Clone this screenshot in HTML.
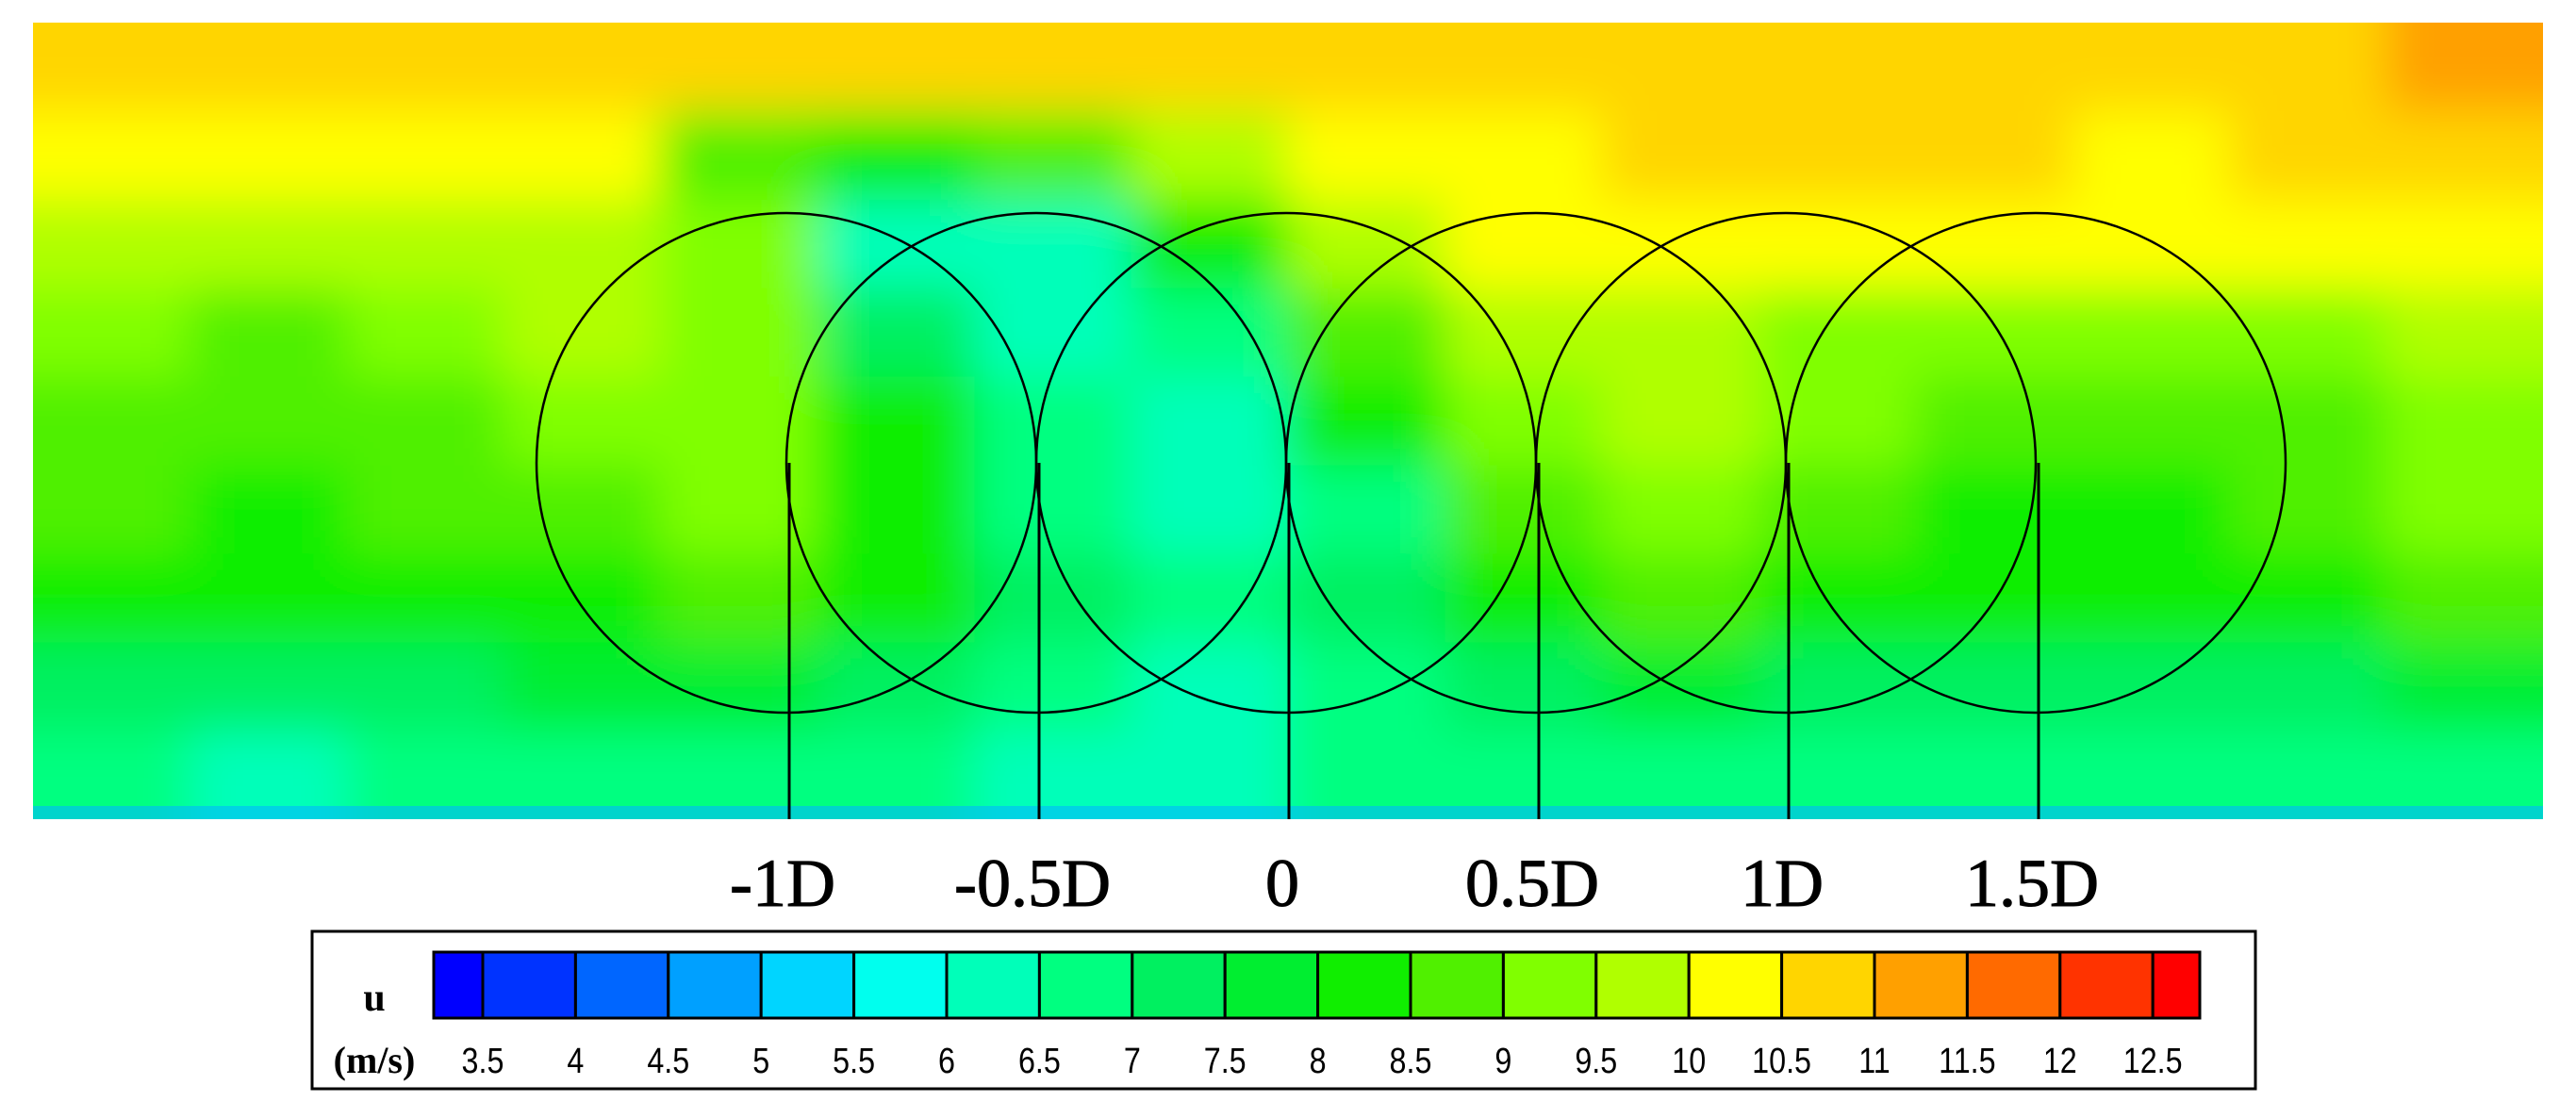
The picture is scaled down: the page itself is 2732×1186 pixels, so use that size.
<!DOCTYPE html>
<html><head><meta charset="utf-8"><style>
html,body{margin:0;padding:0;background:#fff;width:2732px;height:1186px;overflow:hidden}
svg{display:block}
</style></head><body>
<svg id="chart" width="2732" height="1186" viewBox="0 0 2732 1186" xmlns="http://www.w3.org/2000/svg">
<defs>
<clipPath id="fieldClip"><rect x="35" y="24" width="2662" height="845"/></clipPath>
<filter id="blur" x="-10%" y="-10%" width="120%" height="120%"><feGaussianBlur stdDeviation="26"/></filter>
</defs>
<g id="field" clip-path="url(#fieldClip)"><g id="cells" filter="url(#blur)"></g></g>
<g id="circles"></g>
<g id="xlabels"></g>
<g id="legend">
<rect x="331" y="988" width="2061" height="167" fill="#fff" stroke="#000" stroke-width="3"/>
<text x="397" y="1072" font-family="Liberation Serif, serif" font-weight="bold" font-size="42" text-anchor="middle">u</text>
<text x="397" y="1138" font-family="Liberation Serif, serif" font-weight="bold" font-size="40" text-anchor="middle">(m/s)</text>
<g id="cbar"></g>
</g>
</svg>
<script>
const levels=[3.5,4,4.5,5,5.5,6,6.5,7,7.5,8,8.5,9,9.5,10,10.5,11,11.5,12,12.5];
const colors=['#0000ff','#0033ff','#0066ff','#00a0ff','#00d5ff','#00ffee','#00ffb9','#00ff80','#00f060','#00ee30','#10ee00','#50f000','#80ff00','#b0ff00','#ffff00','#ffd500','#ffa000','#ff6a00','#ff3300','#ff0000'];
const grid=[
[10.8,10.6,10.5,10.6,10.7,10.7,10.6,10.5,10.7,10.9,10.8,10.7,10.8,10.7,10.9,11.0],
[10.3,10.1,10.2,10.0,8.8,8.0,8.5,9.8,10.2,10.4,10.5,10.5,10.6,10.4,10.5,10.7],
[9.9,9.8,9.9,9.7,9.2,6.3,6.2,8.3,9.6,10.0,10.1,10.1,10.2,10.0,10.0,10.3],
[9.1,8.9,9.2,9.5,9.4,7.2,6.2,6.5,8.8,9.5,9.7,9.4,9.2,9.0,9.3,9.8],
[8.8,8.5,8.7,9.1,9.2,8.3,6.5,6.1,8.0,9.1,9.5,9.0,8.7,8.6,8.9,9.4],
[8.5,8.3,8.5,8.8,9.0,8.4,6.8,6.0,6.8,8.5,9.1,8.6,8.4,8.4,8.7,9.0],
[8.2,8.0,8.2,8.4,8.6,8.0,7.0,6.6,7.0,8.0,8.5,8.2,8.0,8.2,8.4,8.6],
[7.4,7.2,7.3,7.5,7.7,7.3,6.8,6.4,6.8,7.2,7.6,7.4,7.2,7.2,7.4,7.6],
[6.6,6.4,6.6,6.7,6.7,6.6,6.4,6.2,6.5,6.7,6.8,6.7,6.7,6.5,6.5,6.6]
];
const positions=['-1D','-0.5D','0','0.5D','1D','1.5D'];
const posValues=[-1,-0.5,0,0.5,1,1.5];
const NS='http://www.w3.org/2000/svg';
function mk(t,a,p){const e=document.createElementNS(NS,t);for(const k in a)e.setAttribute(k,a[k]);p.appendChild(e);return e;}
function colorFor(v){let i=0;while(i<levels.length&&v>=levels[i])i++;return colors[i];}
const fx0=35,fy0=24,fw=2662,fh=845;
const cw=fw/grid[0].length,ch=fh/grid.length;
const cells=document.getElementById('cells');
grid.forEach((row,r)=>row.forEach((v,c)=>{
 let x=fx0+c*cw,y=fy0+r*ch,w=cw+1,h=ch+1;
 if(c===0){x-=120;w+=120;} if(c===row.length-1){w+=120;}
 if(r===0){y-=120;h+=120;} if(r===grid.length-1){h+=120;}
 const e=mk('rect',{x:x,y:y,width:w,height:h,fill:colorFor(v)},cells);
 
 
}));
const strip=mk('rect',{x:35,y:855,width:2662,height:14,fill:'#00b8ff',opacity:0.6},document.getElementById('field'));


function xPos(d){return 1364+d*530;}
const circ=document.getElementById('circles'),xl=document.getElementById('xlabels');
posValues.forEach((d,i)=>{
 const cx=xPos(d);
 const c=mk('circle',{cx:cx,cy:491,r:265,fill:'none',stroke:'#000','stroke-width':2.5},circ);
 
 
 const l=mk('line',{x1:cx+3,y1:491,x2:cx+3,y2:869,stroke:'#000','stroke-width':3},circ);
 
 
 const t=mk('text',{x:cx-4,y:961,'font-family':'Liberation Serif, serif','font-size':72,'text-anchor':'middle','stroke':'#000','stroke-width':1},xl);
 t.textContent=positions[i];
 
 
});
const cb=document.getElementById('cbar');
const bx0=460,bx1=2333,step=98.4,b0=512;
function bX(i){return b0+i*step;}
colors.forEach((col,i)=>{
 const x=i===0?bx0:bX(i-1), x2=i===colors.length-1?bx1:bX(i);
 const r=mk('rect',{x:x,y:1010,width:x2-x,height:70,fill:col,stroke:'#000','stroke-width':3},cb);
 
 
});
levels.forEach((v,i)=>{
 const t=mk('text',{x:bX(i),y:1138,'font-family':'Liberation Sans Narrow, Liberation Sans, sans-serif','font-size':38,'text-anchor':'middle','transform':'translate('+bX(i)+' 0) scale(0.85 1) translate('+(-bX(i))+' 0)'},cb);
 t.textContent=String(v);
 
 
});
</script>
</body></html>
